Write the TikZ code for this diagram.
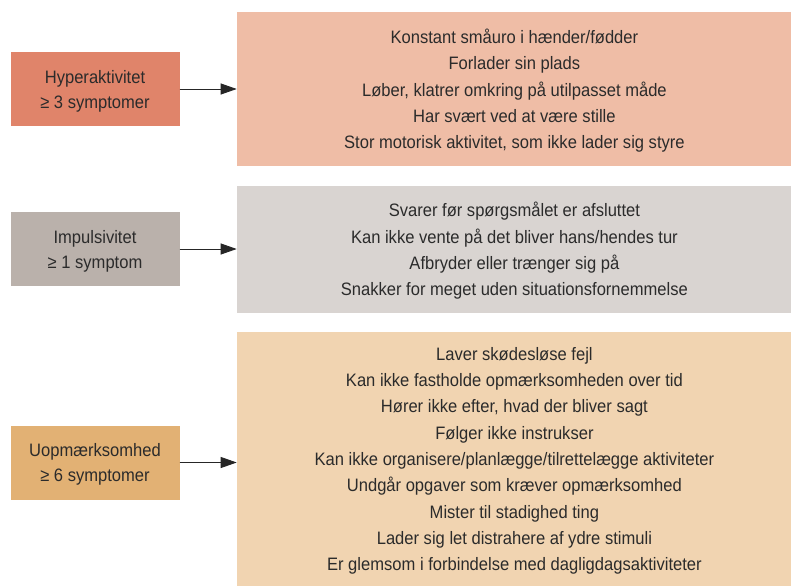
\documentclass[tikz,border=0pt]{standalone}
\usepackage{fontspec}
\setmainfont[FakeStretch=0.92]{Liberation Sans}
\usetikzlibrary{positioning,arrows.meta}

\definecolor{hypdark}{HTML}{E0846A}
\definecolor{hyplight}{HTML}{EFBDA6}
\definecolor{impdark}{HTML}{BAB1AB}
\definecolor{implight}{HTML}{D9D4D1}
\definecolor{uopdark}{HTML}{E2B174}
\definecolor{uoplight}{HTML}{F1D4B1}
\definecolor{tekst}{HTML}{2B2B2B}

\tikzset{
  crit/.style={rectangle, minimum width=169pt, minimum height=74pt, inner sep=0pt,
    align=center, text=tekst, text depth=0pt, font=\fontsize{18}{25}\selectfont},
  symlist/.style={rectangle, minimum width=555pt, inner sep=0pt,
    align=center, text=tekst, text depth=0pt, font=\fontsize{18}{26.3}\selectfont},
  pil/.style={-{Triangle[length=16pt,width=11pt]}, line width=0.9pt, draw=black!85, fill=black!85}
}

\begin{document}
\begin{tikzpicture}[x=1pt,y=-1pt]
\useasboundingbox (0,0) rectangle (791,586);

  % kriterier
  \node[crit, fill=hypdark] (hyp) at (95,89)    {Hyperaktivitet\\≥ 3 symptomer}; %
  \node[crit, fill=impdark] (imp) at (95,249)   {Impulsivitet\\≥ 1 symptom}; %
  \node[crit, fill=uopdark] (uop) at (95,462.5) {Uopmærksomhed\\≥ 6 symptomer}; %

  % symptomer
  \node[symlist, fill=hyplight, minimum height=154pt, right=57pt of hyp] (hyp-list) {%
    Konstant småuro i hænder/fødder\\
    Forlader sin plads\\
    Løber, klatrer omkring på utilpasset måde\\
    Har svært ved at være stille\\
    Stor motorisk aktivitet, som ikke lader sig styre}; %
  \node[symlist, fill=implight, minimum height=127pt, right=57pt of imp] (imp-list) {%
    Svarer før spørgsmålet er afsluttet\\
    Kan ikke vente på det bliver hans/hendes tur\\
    Afbryder eller trænger sig på\\
    Snakker for meget uden situationsfornemmelse}; %
  \node[symlist, fill=uoplight, minimum height=254pt, right=57pt of uop, yshift=3.5pt] (uop-list) {%
    Laver skødesløse fejl\\
    Kan ikke fastholde opmærksomheden over tid\\
    Hører ikke efter, hvad der bliver sagt\\
    Følger ikke instrukser\\
    Kan ikke organisere/planlægge/tilrettelægge aktiviteter\\
    Undgår opgaver som kræver opmærksomhed\\
    Mister til stadighed ting\\
    Lader sig let distrahere af ydre stimuli\\
    Er glemsom i forbindelse med dagligdagsaktiviteter}; %

  % pile
  \draw[pil] (hyp.east) -- (hyp.east -| hyp-list.west);
  \draw[pil] (imp.east) -- (imp.east -| imp-list.west);
  \draw[pil] (uop.east) -- (uop.east -| uop-list.west);

\end{tikzpicture}
\end{document}
